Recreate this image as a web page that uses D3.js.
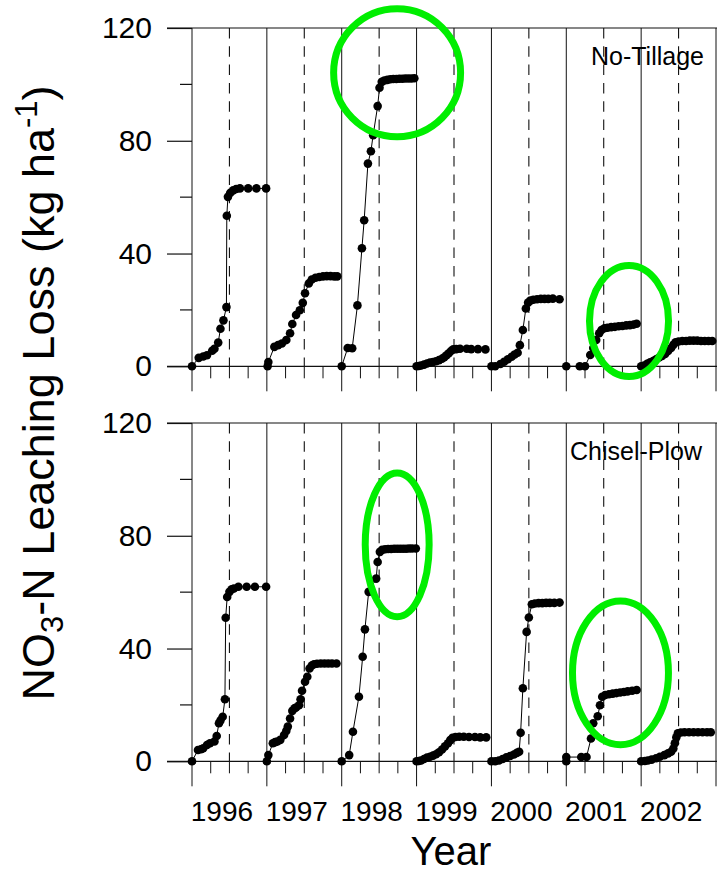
<!DOCTYPE html>
<html>
<head>
<meta charset="utf-8">
<script src="https://cdn.jsdelivr.net/npm/d3@7"></script>
<style>
  body { margin: 0; background: #fff; }
  svg { display: block; }
  text { font-family: "Liberation Sans", Arial, Helvetica, sans-serif; fill: #000; }
</style>
</head>
<body>
<svg id="chart" width="717" height="872"></svg>
<script>
// ---- data -------------------------------------------------------------
const years = [1996, 1997, 1998, 1999, 2000, 2001, 2002];
const yearLabels = ["1996", "1997", "1998", "1999", "2000", "2001", "2002"];
const yMajorTicks = [0, 40, 80, 120];
const yMinorTicks = [20, 60, 100];
const panelLabels = ["No-Tillage", "Chisel-Plow"];

// Cumulative NO3-N leaching within each year: [fraction of year, kg ha-1]
const noTill1996 = [[0,0],[0.09,3.0],[0.15,3.5],[0.2,3.9],[0.27,5.5],[0.3,6.2],[0.35,8.4],[0.38,13.3],[0.42,16.3],[0.46,21.0],[0.465,53.4],[0.48,60.1],[0.51,61.5],[0.55,62.4],[0.59,62.9],[0.64,63.1],[0.75,63.1],[0.86,63.1],[0.99,63.1]];
const noTill1997 = [[0.01,0],[0.02,1.5],[0.1,6.9],[0.15,7.5],[0.2,8.1],[0.26,9.3],[0.31,11.7],[0.34,15.0],[0.39,18.2],[0.44,19.9],[0.48,22.5],[0.51,25.9],[0.56,29.4],[0.6,30.8],[0.65,31.4],[0.7,31.7],[0.75,31.9],[0.8,32.0],[0.85,32.0],[0.9,31.9],[0.94,31.9]];
const noTill1998 = [[0,0],[0.08,6.5],[0.14,6.4],[0.21,21.6],[0.27,41.9],[0.3,51.8],[0.35,71.9],[0.39,76.3],[0.42,82.0],[0.48,92.3],[0.505,98.8],[0.535,100.9],[0.57,101.4],[0.61,101.6],[0.65,101.8],[0.69,101.9],[0.73,101.9],[0.77,102.0],[0.81,102.0],[0.85,102.1],[0.89,102.1],[0.93,102.1],[0.97,102.2]];
const noTill1999 = [[0,0],[0.03,0.1],[0.06,0.3],[0.1,0.6],[0.14,1.0],[0.18,1.3],[0.22,1.5],[0.26,1.8],[0.3,2.2],[0.34,2.7],[0.37,3.2],[0.4,3.9],[0.43,4.6],[0.46,5.4],[0.49,6.0],[0.53,6.1],[0.58,6.2],[0.67,6.2],[0.73,6.1],[0.82,6.1],[0.92,6.0]];
const noTill2000 = [[0,0],[0.05,0],[0.12,0.8],[0.17,1.6],[0.22,2.5],[0.27,3.4],[0.31,4.2],[0.35,4.8],[0.38,7.5],[0.42,12.9],[0.46,20.5],[0.49,22.6],[0.52,23.3],[0.56,23.6],[0.61,23.8],[0.66,23.9],[0.71,23.9],[0.76,23.9],[0.82,24.0],[0.91,23.8]];
const noTill2001 = [[0,0],[0.18,0],[0.25,0],[0.32,4.0],[0.36,6.5],[0.4,9.3],[0.44,11.7],[0.47,12.9],[0.51,13.5],[0.55,13.7],[0.6,13.9],[0.65,14.0],[0.7,14.2],[0.75,14.3],[0.8,14.5],[0.85,14.6],[0.9,14.8],[0.94,15.1]];
const noTill2002 = [[0,0],[0.04,0.3],[0.08,0.9],[0.12,1.4],[0.16,1.9],[0.2,2.5],[0.24,3.1],[0.28,3.7],[0.32,4.4],[0.36,5.4],[0.4,6.5],[0.43,7.6],[0.46,8.5],[0.5,8.8],[0.55,9.0],[0.6,9.0],[0.65,9.1],[0.7,9.1],[0.75,9.1],[0.8,9.0],[0.85,9.0],[0.9,9.0],[0.95,9.0]];

const chisel1996 = [[0,0],[0.08,4.0],[0.12,4.3],[0.15,4.6],[0.2,5.8],[0.24,6.4],[0.3,7.0],[0.33,9.0],[0.36,13.5],[0.38,14.5],[0.41,15.8],[0.44,22.0],[0.45,50.9],[0.47,58.3],[0.5,60.1],[0.53,61.0],[0.56,61.3],[0.62,61.9],[0.73,61.9],[0.84,61.9],[0.99,61.9]];
const chisel1997 = [[0,0],[0.02,2.2],[0.08,6.4],[0.11,6.8],[0.14,7.0],[0.18,7.6],[0.23,9.3],[0.26,10.8],[0.28,12.3],[0.31,15.2],[0.34,17.9],[0.37,18.8],[0.39,19.1],[0.43,19.9],[0.45,22.0],[0.47,25.0],[0.51,28.2],[0.54,30.0],[0.57,32.9],[0.6,34.0],[0.63,34.4],[0.67,34.6],[0.72,34.7],[0.77,34.7],[0.82,34.7],[0.87,34.7],[0.93,34.7]];
const chisel1998 = [[0,0],[0.1,2.2],[0.15,10.5],[0.23,22.9],[0.28,37.1],[0.31,46.8],[0.36,60.1],[0.46,64.8],[0.48,70.7],[0.51,74.3],[0.54,75.0],[0.58,75.2],[0.62,75.3],[0.66,75.3],[0.7,75.4],[0.74,75.4],[0.78,75.4],[0.82,75.4],[0.86,75.4],[0.9,75.5],[0.94,75.5],[0.99,75.5]];
const chisel1999 = [[0,0],[0.03,0.1],[0.06,0.3],[0.1,0.8],[0.14,1.3],[0.18,1.6],[0.22,2.0],[0.26,2.5],[0.3,3.2],[0.34,4.2],[0.38,5.3],[0.42,6.4],[0.45,7.5],[0.48,8.3],[0.52,8.6],[0.57,8.7],[0.63,8.7],[0.7,8.6],[0.78,8.6],[0.85,8.5],[0.93,8.5]];
const chisel2000 = [[0,0],[0.05,0],[0.1,0.3],[0.15,0.8],[0.2,1.4],[0.25,1.9],[0.3,2.4],[0.34,3.0],[0.37,3.4],[0.39,10.1],[0.42,25.9],[0.47,45.9],[0.5,51.0],[0.54,55.7],[0.58,56.0],[0.63,56.1],[0.68,56.1],[0.73,56.2],[0.78,56.2],[0.84,56.2],[0.91,56.3]];
const chisel2001 = [[0,0],[0,1.5],[0.2,1.5],[0.27,1.5],[0.33,8.1],[0.36,13.5],[0.42,16.0],[0.45,19.9],[0.48,22.9],[0.52,23.5],[0.57,23.8],[0.62,24.0],[0.67,24.2],[0.72,24.4],[0.77,24.6],[0.82,24.8],[0.88,25.0],[0.94,25.3]];
const chisel2002 = [[0,0],[0.05,0.1],[0.09,0.3],[0.14,0.6],[0.2,1.1],[0.25,1.6],[0.31,2.2],[0.36,2.8],[0.4,3.4],[0.43,4.5],[0.45,6.4],[0.47,8.5],[0.49,9.9],[0.53,10.2],[0.58,10.3],[0.64,10.3],[0.7,10.3],[0.76,10.3],[0.82,10.3],[0.88,10.3],[0.93,10.3]];

// Highlight ellipses: [centre year, centre value, half-width (years), half-height (kg ha-1)]
const noTillHighlights = [[1998.74, 104.1, 0.848, 22.7], [2001.838, 16.05, 0.528, 19.7]];
const chiselHighlights = [[1998.741, 76.8, 0.427, 25.5], [2001.724, 31.4, 0.641, 25.5]];

// ---- layout -----------------------------------------------------------
const svg = d3.select("#chart");
const plotLeft = 192, plotRight = 716;
const panelHeight = 338.3;
const panelTops = [28, 423];
const majorTick = 25, minorTick = 12;

const x = d3.scaleLinear().domain([1996, 2003]).range([plotLeft, plotRight]);

const panelSeries = [
  [noTill1996, noTill1997, noTill1998, noTill1999, noTill2000, noTill2001, noTill2002],
  [chisel1996, chisel1997, chisel1998, chisel1999, chisel2000, chisel2001, chisel2002]
];
const panelHighlights = [noTillHighlights, chiselHighlights];
const labelAnchors = [[704, 65], [702, 460]];

const yearBounds = d3.range(years[0], years[years.length - 1] + 2);
const quarterTicks = years.flatMap(yr => [yr + 0.25, yr + 0.5, yr + 0.75]);
const midYears = years.map(yr => yr + 0.5);

panelTops.forEach((top, p) => {
  const y = d3.scaleLinear().domain([0, 120]).range([top + panelHeight, top]);
  const g = svg.append("g");
  const bottom = y(0);

  // year boundaries: solid, running down into the major x ticks
  g.selectAll(".yr").data(yearBounds).join("line")
    .attr("x1", d => x(d)).attr("x2", d => x(d))
    .attr("y1", y(120)).attr("y2", bottom + majorTick)
    .attr("stroke", "#111").attr("stroke-width", 1);

  // mid-year: dashed
  g.selectAll(".mid").data(midYears).join("line")
    .attr("x1", d => x(d)).attr("x2", d => x(d))
    .attr("y1", y(120)).attr("y2", bottom)
    .attr("stroke", "#111").attr("stroke-width", 1.1)
    .attr("stroke-dasharray", "10.5,7.8");

  // quarterly minor x ticks
  g.selectAll(".qt").data(quarterTicks).join("line")
    .attr("x1", d => x(d)).attr("x2", d => x(d))
    .attr("y1", bottom).attr("y2", bottom + minorTick)
    .attr("stroke", "#111").attr("stroke-width", 1);

  // top and zero lines span the full width, starting at the outer tick end
  [120, 0].forEach(v => {
    g.append("line")
      .attr("x1", plotLeft - majorTick).attr("x2", 717)
      .attr("y1", y(v)).attr("y2", y(v))
      .attr("stroke", "#111").attr("stroke-width", 1.2);
  });

  // y axis: major ticks with labels, minor ticks without
  const yAxis = d3.axisLeft(y).tickValues(yMajorTicks).tickSize(majorTick).tickPadding(15)
    .tickFormat(d3.format("d"));
  const ya = g.append("g").attr("transform", `translate(${plotLeft},0)`).call(yAxis);
  ya.select(".domain").remove();
  ya.selectAll(".tick line").attr("stroke", "#111").attr("stroke-width", 1.2);
  ya.selectAll(".tick text")
    .style("font-family", '"Liberation Sans", Arial, sans-serif')
    .style("font-size", "30px").attr("fill", "#000");

  g.selectAll(".ymin").data(yMinorTicks).join("line")
    .attr("x1", plotLeft - minorTick).attr("x2", plotLeft)
    .attr("y1", d => y(d)).attr("y2", d => y(d))
    .attr("stroke", "#111").attr("stroke-width", 1.2);

  // panel label
  g.append("text")
    .attr("x", labelAnchors[p][0]).attr("y", labelAnchors[p][1])
    .attr("text-anchor", "end").style("font-size", "25px")
    .text(panelLabels[p]);

  // annual cumulative series
  const line = d3.line().x(d => x(d.yr + d.t)).y(d => y(d.v));
  panelSeries[p].forEach((series, i) => {
    const pts = series.map(([t, v]) => ({ yr: years[i], t, v }));
    g.append("path").datum(pts).attr("d", line)
      .attr("fill", "none").attr("stroke", "#000").attr("stroke-width", 1);
    g.selectAll(null).data(pts).join("circle")
      .attr("cx", d => x(d.yr + d.t)).attr("cy", d => y(d.v)).attr("r", 4.3)
      .attr("fill", "#000");
  });

  // highlight ellipses drawn over the data
  g.selectAll(".hl").data(panelHighlights[p]).join("ellipse")
    .attr("cx", d => x(d[0])).attr("cy", d => y(d[1]))
    .attr("rx", d => x(d[0] + d[2]) - x(d[0]))
    .attr("ry", d => y(d[1] - d[3]) - y(d[1]))
    .attr("fill", "none").attr("stroke", "#00ee00").attr("stroke-width", 7);
});

// year labels under the lower panel
svg.append("g").selectAll("text").data(years).join("text")
  .attr("x", d => x(d + 0.4)).attr("y", 821)
  .attr("text-anchor", "middle").style("font-size", "28px")
  .text((d, i) => yearLabels[i]);

// axis titles
svg.append("text")
  .attr("x", 451).attr("y", 865)
  .attr("text-anchor", "middle").style("font-size", "40px")
  .text("Year");

const yTitle = svg.append("text")
  .attr("transform", "translate(54,393) rotate(-90)")
  .attr("text-anchor", "middle").style("font-size", "45px");
yTitle.append("tspan").text("NO");
yTitle.append("tspan").attr("dy", 9).style("font-size", "31px").text("3");
yTitle.append("tspan").attr("dy", -9).text("-N Leaching Loss (kg ha");
yTitle.append("tspan").attr("dy", -17).style("font-size", "31px").text("-1");
yTitle.append("tspan").attr("dy", 17).text(")");
</script>
</body>
</html>
